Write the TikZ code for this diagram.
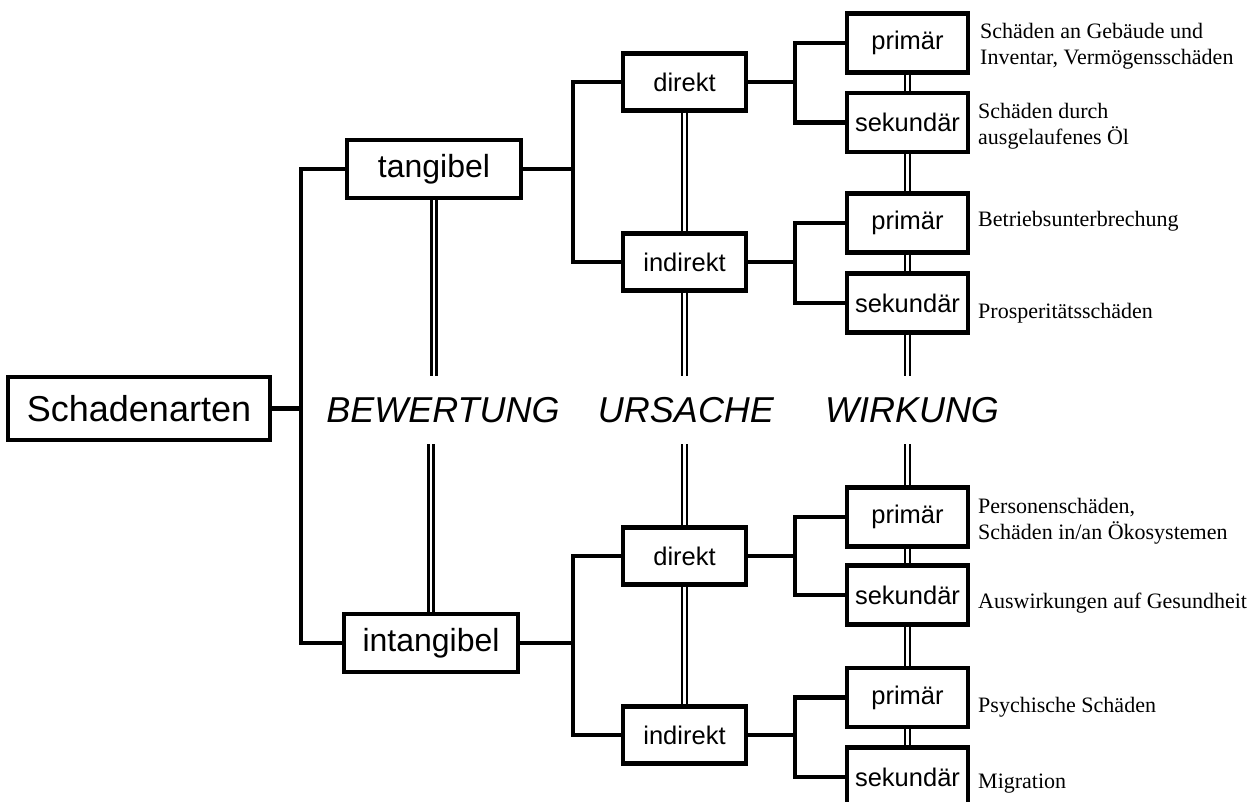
\documentclass[tikz,border=0pt]{standalone}
\usepackage{fontspec}
\setmainfont{Liberation Serif}
\setsansfont{Liberation Sans}
\begin{document}
\begin{tikzpicture}[x=1pt,y=-1pt,
  box/.style={draw, line width=4.2pt, fill=white, inner sep=0pt, font=\sffamily\fontsize{25.5}{30}\selectfont},
  bigbox/.style={box, font=\sffamily\fontsize{32}{38}\selectfont, minimum width=174pt, minimum height=58pt},
  midbox/.style={box, minimum width=123pt, minimum height=57pt},
  smallbox/.style={box, minimum width=121pt, minimum height=59pt},
  conn/.style={line width=4.2pt},
  dbl/.style={draw, line width=2.4pt, double=white, double distance=2.4pt},
  lab/.style={font=\sffamily\itshape\fontsize{36}{42}\selectfont, inner sep=0pt, minimum height=68pt},
  desc/.style={anchor=west, align=left, inner sep=0pt, font=\fontsize{22}{26.5}\selectfont}]
\useasboundingbox (0,0) rectangle (1257,802);
\clip (0,0) rectangle (1257,802);

% nodes
\node[box, font=\sffamily\fontsize{36}{42}\selectfont, minimum width=262pt, minimum height=63pt] (sch) at (139,408.5) {Schadenarten};
\node[bigbox] (tan) at (434,169) {tangibel};
\node[bigbox] (int) at (431,643) {intangibel};

\node[midbox] (d1) at (684.5,82) {direkt};
\node[midbox] (i1) at (684.5,262) {indirekt};
\node[midbox] (d2) at (684.5,556) {direkt};
\node[midbox] (i2) at (684.5,735) {indirekt};

\node[smallbox] (p1) at (907.5,43) {primär};
\node[smallbox] (s1) at (907.5,122.5) {sekundär};
\node[smallbox] (p2) at (907.5,223) {primär};
\node[smallbox] (s2) at (907.5,303) {sekundär};
\node[smallbox] (p3) at (907.5,517) {primär};
\node[smallbox] (s3) at (907.5,595) {sekundär};
\node[smallbox] (p4) at (907.5,697.5) {primär};
\node[smallbox] (s4) at (907.5,777) {sekundär};

\node[lab] (bew) at (443,410) {BEWERTUNG};
\node[lab] (urs) at (686,410) {URSACHE};
\node[lab] (wir) at (912,410) {WIRKUNG};

% descriptions
\node[desc] (t1) at (980,46) {Schäden an Gebäude und\\Inventar, Vermögensschäden};
\node[desc] (t2) at (978,126) {Schäden durch\\ausgelaufenes Öl};
\node[desc] (t3) at (978,221) {Betriebsunterbrechung};
\node[desc] (t4) at (978,313) {Prosperitätsschäden};
\node[desc] (t5) at (978,521) {Personenschäden,\\Schäden in/an Ökosystemen};
\node[desc] (t6) at (978,603) {Auswirkungen auf Gesundheit};
\node[desc] (t7) at (978,707) {Psychische Schäden};
\node[desc] (t8) at (978,784) {Migration};

% bracket points
\coordinate (b0) at (301,408.5);
\coordinate (b1) at (573,169);
\coordinate (b2) at (573,643);
\coordinate (b3) at (795,82);
\coordinate (b4) at (795,262);
\coordinate (b5) at (795,556);
\coordinate (b6) at (795,735);

% connectors
\draw[conn] (sch.east) -- (b0);
\draw[conn] (tan.west) -| (b0) |- (int.west);
\draw[conn] (tan.east) -- (b1);
\draw[conn] (d1.west) -| (b1) |- (i1.west);
\draw[conn] (int.east) -- (b2);
\draw[conn] (d2.west) -| (b2) |- (i2.west);
\draw[conn] (d1.east) -- (b3);
\draw[conn] (p1.west) -| (b3) |- (s1.west);
\draw[conn] (i1.east) -- (b4);
\draw[conn] (p2.west) -| (b4) |- (s2.west);
\draw[conn] (d2.east) -- (b5);
\draw[conn] (p3.west) -| (b5) |- (s3.west);
\draw[conn] (i2.east) -- (b6);
\draw[conn] (p4.west) -| (b6) |- (s4.west);

% double lines
\draw[dbl] (tan.south) -- (tan.south |- bew.north);
\draw[dbl] (bew.south -| int.north) -- (int.north);
\draw[dbl] (d1.south) -- (i1.north);
\draw[dbl] (i1.south) -- (i1.south |- urs.north);
\draw[dbl] (urs.south -| d2.north) -- (d2.north);
\draw[dbl] (d2.south) -- (i2.north);
\draw[dbl] (p1.south) -- (s1.north);
\draw[dbl] (s1.south) -- (p2.north);
\draw[dbl] (p2.south) -- (s2.north);
\draw[dbl] (s2.south) -- (s2.south |- wir.north);
\draw[dbl] (wir.south -| p3.north) -- (p3.north);
\draw[dbl] (p3.south) -- (s3.north);
\draw[dbl] (s3.south) -- (p4.north);
\draw[dbl] (p4.south) -- (s4.north);
\end{tikzpicture}
\end{document}
